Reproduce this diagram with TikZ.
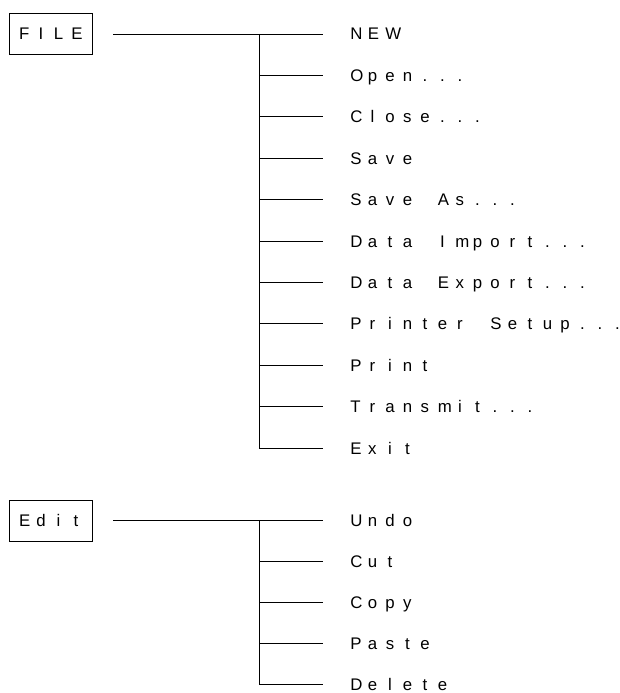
\documentclass[tikz,border=0pt]{standalone}
\usepackage{fontspec}
\setmainfont{Liberation Sans}
% fixed-pitch letter cells for the widely spaced menu labels;
% narrow glyphs sit centred in a minimum 9pt slot at the cell's left
\makeatletter
\newlength\cellw
\setlength\cellw{17.5pt}
\newlength\glyphw
\newcommand\cellchar[1]{%
  \settowidth\glyphw{#1}%
  \ifdim\glyphw<9pt \glyphw=9pt \fi
  \makebox[\cellw][l]{\makebox[\glyphw][c]{#1}}}
\newcommand\spacedtext[1]{\@tfor\sp@ch:=#1\do{\cellchar{\sp@ch}}}
\makeatother

\begin{document}
\begin{tikzpicture}[x=1pt, y=-1pt, line width=0.9pt,
  every node/.style={font=\fontsize{16.8}{20}\selectfont},
  menubox/.style={draw, minimum width=83pt, minimum height=41pt,
    inner sep=0pt, text height=12pt, text depth=0pt},
  menuitem/.style={anchor=west, inner sep=0pt, text height=12pt, text depth=0pt},
  branch/.style={shorten >=27pt}]
\useasboundingbox (0,0) rectangle (620,693);

% ---- FILE menu ----
\node[menubox] (file) at (50.5,34) {\hspace*{7pt}\spacedtext{FILE}};
\node[menuitem] (f1)  at (350,34.0)  {\spacedtext{NEW}};
\node[menuitem] (f2)  at (350,75.4)  {\spacedtext{Open...}};
\node[menuitem] (f3)  at (350,116.8) {\spacedtext{Close...}};
\node[menuitem] (f4)  at (350,158.2) {\spacedtext{Save}};
\node[menuitem] (f5)  at (350,199.6) {\spacedtext{Save~As...}};
\node[menuitem] (f6)  at (350,241.0) {\spacedtext{Data~Import...}};
\node[menuitem] (f7)  at (350,282.4) {\spacedtext{Data~Export...}};
\node[menuitem] (f8)  at (350,323.8) {\spacedtext{Printer~Setup...}};
\node[menuitem] (f9)  at (350,365.2) {\spacedtext{Print}};
\node[menuitem] (f10) at (350,406.6) {\spacedtext{Transmit...}};
\node[menuitem] (f11) at (350,448.0) {\spacedtext{Exit}};
\coordinate (fj) at (259,34);
\draw[shorten <=21pt, branch] (file.east) -- (f1.west);
\draw (fj) -- (fj |- f11.west);
\foreach \name in {f2,f3,f4,f5,f6,f7,f8,f9,f10,f11}
  \draw[branch] (fj |- \name.west) -- (\name.west);

% ---- Edit menu ----
\node[menubox] (edit) at (50.5,520.5) {\hspace*{7pt}\spacedtext{Edit}};
\node[menuitem] (e1) at (350,520.5) {\spacedtext{Undo}};
\node[menuitem] (e2) at (350,561.5) {\spacedtext{Cut}};
\node[menuitem] (e3) at (350,602.5) {\spacedtext{Copy}};
\node[menuitem] (e4) at (350,643.5) {\spacedtext{Paste}};
\node[menuitem] (e5) at (350,684.5) {\spacedtext{Delete}};
\coordinate (ej) at (259,520.5);
\draw[shorten <=21pt, branch] (edit.east) -- (e1.west);
\draw (ej) -- (ej |- e5.west);
\foreach \name in {e2,e3,e4,e5}
  \draw[branch] (ej |- \name.west) -- (\name.west);
\end{tikzpicture}
\end{document}
